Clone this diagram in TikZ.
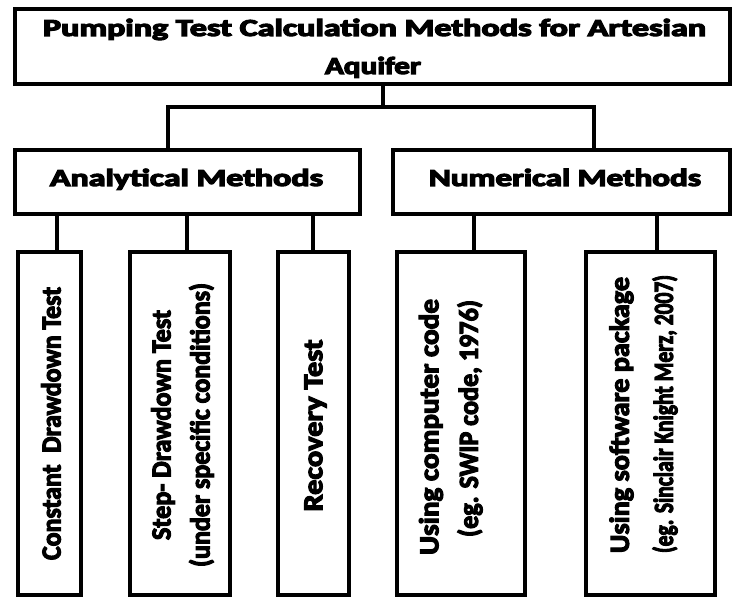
\documentclass[tikz,border=0pt]{standalone}
\usepackage{graphicx}
\usepackage{fontspec}
\setmainfont{Carlito}[BoldFeatures={FakeBold=4}]
\newfontfamily\heavyfont{Carlito}[BoldFeatures={FakeBold=4.5}]
\usetikzlibrary{calc}
% stretch text to a given length, keeping (or scaling) its height
\newcommand{\hfit}[2]{\resizebox{#1pt}{\height}{#2}}
\newcommand{\vfit}[2]{\resizebox{#1pt}{1.06\height}{#2}}
\begin{document}
\begin{tikzpicture}[x=1pt,y=-1pt,
  box/.style={draw=black, line width=4.5pt, inner sep=0pt, outer sep=0pt, fill=white, anchor=north west},
  link/.style={draw=black, line width=4.5pt},
  vtext/.style={rotate=90, inner sep=0pt, font=\bfseries\fontsize{26}{30}\selectfont},
  htext/.style={anchor=base, inner sep=0pt, font=\heavyfont\bfseries\fontsize{24.5}{28}\selectfont}]
\useasboundingbox (0,0) rectangle (732,599);
\fill[white] (0,0) rectangle (732,599);
% boxes
\node[box, minimum width=715, minimum height=75] (top) at (15,9) {};
\node[box, minimum width=345, minimum height=64] (ana) at (15,150) {};
\node[box, minimum width=337, minimum height=64] (num) at (393,150) {};
\node[box, minimum width=63, minimum height=343] (c1) at (18,252) {};
\node[box, minimum width=100, minimum height=343] (c2) at (130,252) {};
\node[box, minimum width=71, minimum height=343] (c3) at (278,252) {};
\node[box, minimum width=128, minimum height=343] (c4) at (397,252) {};
\node[box, minimum width=129, minimum height=343] (c5) at (586,252) {};
% horizontal texts
\node[htext] (ttop1) at (374.5,36) {\hfit{663}{Pumping Test Calculation Methods for Artesian}};
\node[htext] (ttop2) at (373,74) {\hfit{96}{Aquifer}};
\node[htext] (tana) at (186.5,186) {\hfit{273}{Analytical Methods}};
\node[htext] (tnum) at (565,186) {\hfit{272}{Numerical Methods}};
% vertical texts
\node[vtext] (t1) at (51,423.5) {\vfit{273}{Constant\ \ Drawdown Test}};
\node[vtext] (t2a) at (163,425) {\vfit{230}{Step- Drawdown Test}};
\node[vtext] (t2b) at (201.5,425) {\vfit{284}{(under specific conditions)}};
\node[vtext] (t3) at (315.5,425.5) {\vfit{172}{Recovery Test}};
\node[vtext] (t4a) at (431,427) {\vfit{256}{Using computer code}};
\node[vtext] (t4b) at (470,418.5) {\vfit{237}{(eg. SWIP code, 1976)}};
\node[vtext] (t5a) at (621.5,415) {\vfit{276}{Using software package}};
\node[vtext] (t5b) at (665,414) {\vfit{278}{(eg. Sinclair Knight Merz, 2007)}};
% connector coordinates
\coordinate (k0) at (383,107);
\coordinate (ka) at (168,0);
\coordinate (kn) at (594,0);
\coordinate (k1) at (57,0);
\coordinate (k2) at (187,0);
\coordinate (k3) at (313,0);
\coordinate (k4) at (474,0);
\coordinate (k5) at (657,0);
% connectors
\draw[link] (k0 |- top.south) -- (k0);
\draw[link] (ka |- ana.north) -- (ka |- k0) -- (kn |- k0) -- (kn |- num.north);
\draw[link] (k1 |- ana.south) -- (k1 |- c1.north);
\draw[link] (k2 |- ana.south) -- (k2 |- c2.north);
\draw[link] (k3 |- ana.south) -- (k3 |- c3.north);
\draw[link] (k4 |- num.south) -- (k4 |- c4.north);
\draw[link] (k5 |- num.south) -- (k5 |- c5.north);
\end{tikzpicture}
\end{document}
